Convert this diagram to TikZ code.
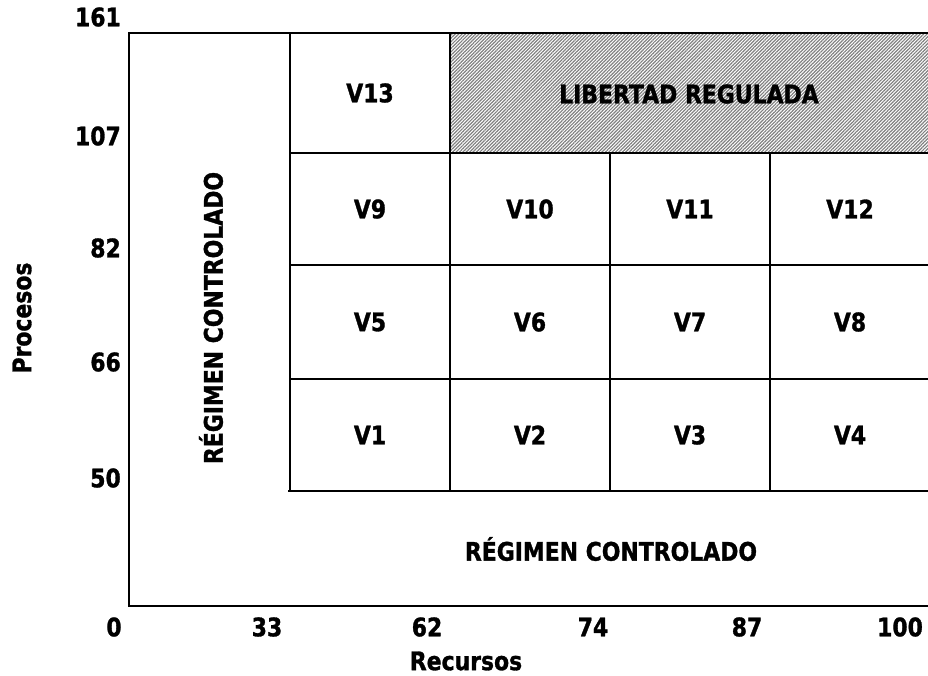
\documentclass[tikz,border=0pt]{standalone}
\usepackage{fontspec}
\setmainfont{DejaVu Sans}[FakeStretch=0.86, BoldFeatures={FakeBold=1.2}]
\usepackage{tikz}
\usetikzlibrary{patterns.meta}

\tikzset{
  lbl/.style={font=\bfseries\fontsize{25.5}{30}\selectfont, inner sep=0pt},
  gridline/.style={line width=2.2pt},
  axisline/.style={line width=2.8pt}
}

\begin{document}
\begin{tikzpicture}[x=1pt,y=-1pt]
\useasboundingbox (0,0) rectangle (928,676);

% Regulated zone
\fill[pattern={Lines[angle=45,distance=2.4pt,line width=1.2pt]},pattern color=gray] (450,33) rectangle (928,153);

% Grid
\draw[gridline] (290,33) -- (290,491);
\draw[gridline] (450,33) -- (450,491);
\draw[gridline] (610,153) -- (610,491);
\draw[gridline] (770,153) -- (770,491);
\draw[gridline] (290,153) -- (928,153);
\draw[gridline] (290,265) -- (928,265);
\draw[gridline] (290,379) -- (928,379);
\draw[gridline] (288,491) -- (928,491);

% Axes
\draw[axisline] (928,33) -- (129,33) -- (129,606) -- (928,606);

% Cells
\node[lbl] (v13) at (370,93) {V13};
\node[lbl] (v9) at (370,209) {V9};
\node[lbl] (v10) at (530,209) {V10};
\node[lbl] (v11) at (690,209) {V11};
\node[lbl] (v12) at (850,209) {V12};
\node[lbl] (v5) at (370,322) {V5};
\node[lbl] (v6) at (530,322) {V6};
\node[lbl] (v7) at (690,322) {V7};
\node[lbl] (v8) at (850,322) {V8};
\node[lbl] (v1) at (370,435) {V1};
\node[lbl] (v2) at (530,435) {V2};
\node[lbl] (v3) at (690,435) {V3};
\node[lbl] (v4) at (850,435) {V4};

% Zones
\node[lbl] (libre) at (689,94) {LIBERTAD REGULADA};
\node[lbl] (ctrlh) at (611,549) {RÉGIMEN CONTROLADO};
\node[lbl,rotate=90] (ctrlv) at (211,318) {RÉGIMEN CONTROLADO};

% Ticks
\node[lbl,anchor=east] (p161) at (121,17) {161};
\node[lbl,anchor=east] (p107) at (121,136) {107};
\node[lbl,anchor=east] (p82) at (121,248) {82};
\node[lbl,anchor=east] (p66) at (121,362) {66};
\node[lbl,anchor=east] (p50) at (121,478) {50};
\node[lbl] (r0) at (114,627) {0};
\node[lbl] (r33) at (267,627) {33};
\node[lbl] (r62) at (427,627) {62};
\node[lbl] (r74) at (593,627) {74};
\node[lbl] (r87) at (747,627) {87};
\node[lbl] (r100) at (900,627) {100};

% Axis titles
\node[lbl] (recursos) at (466,661) {Recursos};
\node[lbl,rotate=90] (procesos) at (22,318) {Procesos};
\end{tikzpicture}
\end{document}
